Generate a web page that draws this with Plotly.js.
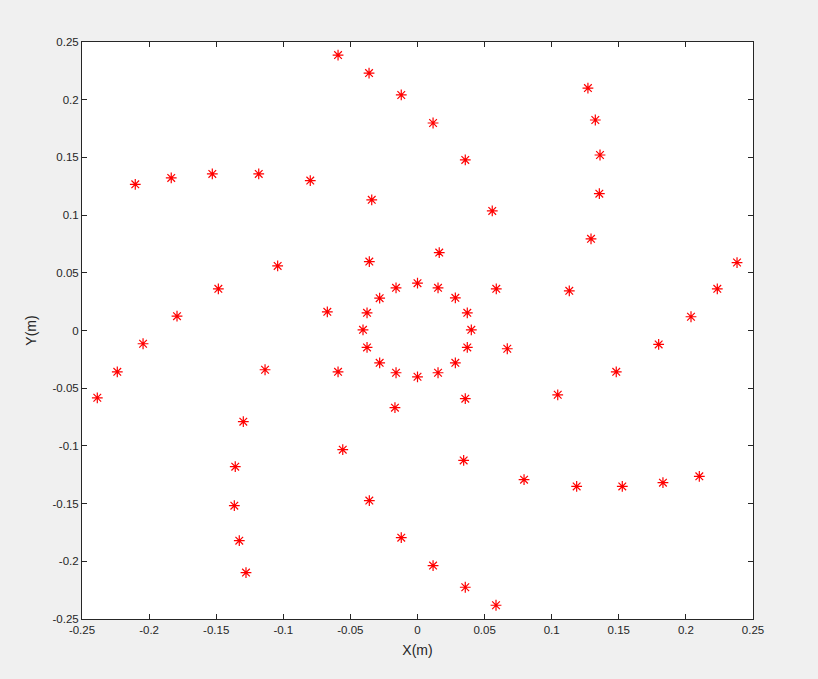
<!DOCTYPE html>
<html><head><meta charset="utf-8">
<script src="https://cdn.plot.ly/plotly-3.0.1.min.js"></script>
<style>html,body{margin:0;padding:0;background:#f0f0f0;}</style>
</head><body><div id="plot" style="width:818px;height:679px;"></div>
<script>
const xVals = [
  0.000, 0.0153, 0.0282, 0.0371, 0.0401, 0.0371, 0.0282, 0.0153, 0.000, -0.016, -0.0282, -0.0376, -0.0406, -0.0376, -0.0282, -0.016,
  -0.0592, -0.0361, -0.0121, 0.0116, 0.0356, 0.0557, 0.0162, 0.0587, 0.0669, 0.0356, 0.0344, -0.0359, -0.0121, 0.0116, 0.0356, 0.0585,
  0.127, 0.1325, 0.136, 0.1355, 0.1293, 0.1131, 0.1045, 0.0794, 0.1186, 0.1526, 0.1829, 0.210,
  0.2381, 0.2234, 0.2038, 0.1797, 0.1481,
  -0.2103, -0.1835, -0.1529, -0.1183, -0.0799, -0.0341, -0.0359, -0.1042, -0.1484, -0.1792, -0.2045, -0.2237, -0.2386,
  -0.0672, -0.0592, -0.0557, -0.0168, -0.1136, -0.1298, -0.1358, -0.1365, -0.1328, -0.1278
];
const yVals = [
  0.041, 0.037, 0.0283, 0.0153, 0.0006, -0.0147, -0.028, -0.0366, -0.0401, -0.0366, -0.028, -0.0147, 0.0006, 0.0153, 0.028, 0.037,
  0.2387, 0.2231, 0.2041, 0.1798, 0.1478, 0.1036, 0.0675, 0.0361, -0.0158, -0.0591, -0.1126, -0.1474, -0.1795, -0.2037, -0.2225, -0.2381,
  0.2101, 0.1824, 0.1521, 0.1186, 0.0794, 0.0344, -0.0557, -0.1293, -0.1351, -0.1351, -0.1319, -0.1264,
  0.0589, 0.0361, 0.0119, -0.0121, -0.0358,
  0.1267, 0.1322, 0.1357, 0.1357, 0.1299, 0.1132, 0.0597, 0.056, 0.0361, 0.0124, -0.0115, -0.0358, -0.0583,
  0.0162, -0.0358, -0.1033, -0.0669, -0.034, -0.079, -0.118, -0.1518, -0.1821, -0.2098
];
const xTicks = [-0.25, -0.2, -0.15, -0.1, -0.05, 0, 0.05, 0.1, 0.15, 0.2, 0.25];
const xTickText = ['-0.25', '-0.2', '-0.15', '-0.1', '-0.05', '0', '0.05', '0.1', '0.15', '0.2', '0.25'];
const yTicks = [-0.25, -0.2, -0.15, -0.1, -0.05, 0, 0.05, 0.1, 0.15, 0.2, 0.25];
const yTickText = ['-0.25', '-0.2', '-0.15', '-0.1', '-0.05', '0', '0.05', '0.1', '0.15', '0.2', '0.25'];

const axisCommon = {
  showgrid: false, zeroline: false, showline: true, linecolor: '#262626', linewidth: 1,
  mirror: 'ticks', ticks: 'inside', ticklen: 5, tickcolor: '#262626', tickwidth: 1,
  tickfont: {family: 'Liberation Sans, Arial, sans-serif', size: 11.5, color: '#262626'}
};

const trace = {
  x: xVals, y: yVals, type: 'scatter', mode: 'markers',
  marker: {symbol: 'asterisk-open', size: 9, color: '#ff0000', line: {color: '#ff0000', width: 1.2}},
  hoverinfo: 'skip'
};

const layout = {
  width: 818, height: 679,
  paper_bgcolor: '#f0f0f0', plot_bgcolor: '#ffffff',
  margin: {l: 82, r: 65, t: 42, b: 60},
  showlegend: false,
  xaxis: Object.assign({}, axisCommon, {
    range: [-0.25, 0.25], tickvals: xTicks, ticktext: xTickText,
    title: {text: 'X(m)', font: {family: 'Liberation Sans, Arial, sans-serif', size: 14, color: '#262626'}, standoff: 10}
  }),
  yaxis: Object.assign({}, axisCommon, {
    range: [-0.25, 0.25], tickvals: yTicks, ticktext: yTickText,
    title: {text: 'Y(m)', font: {family: 'Liberation Sans, Arial, sans-serif', size: 14, color: '#262626'}, standoff: 12}
  })
};

Plotly.newPlot('plot', [trace], layout, {staticPlot: true, displayModeBar: false});
</script>
</body></html>
